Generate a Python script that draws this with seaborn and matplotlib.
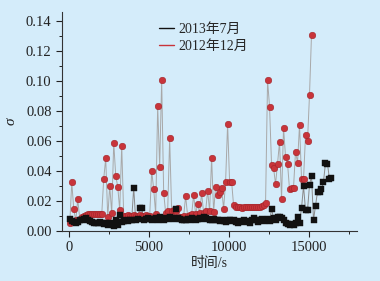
import numpy as np
import pandas as pd
import matplotlib
matplotlib.use("Agg")
import matplotlib.pyplot as plt
from matplotlib.lines import Line2D
from matplotlib.ticker import MultipleLocator
import seaborn as sns

# sampling of the two records (s)
t0 = 40
dt = 125

# 2012年12月 (red circles)
sigma_2012 = [
    0.005, 0.0325, 0.0145, 0.007, 0.021, 0.008, 0.009, 0.010, 0.0105, 0.011,
    0.011, 0.011, 0.011, 0.011, 0.011, 0.011, 0.011, 0.035, 0.0485, 0.009,
    0.030, 0.012, 0.059, 0.037, 0.0296, 0.014, 0.057, 0.010, 0.010, 0.0105,
    0.010, 0.010, 0.0105, 0.010, 0.010, 0.0105, 0.010, 0.010, 0.0105, 0.010,
    0.010, 0.040, 0.028, 0.0113, 0.0835, 0.043, 0.1007, 0.0255, 0.012, 0.013,
    0.0618, 0.013, 0.014, 0.013, 0.015, 0.009, 0.0095, 0.010, 0.0233, 0.010,
    0.0105, 0.011, 0.0242, 0.011, 0.018, 0.012, 0.0253, 0.012, 0.013, 0.027,
    0.013, 0.049, 0.0127, 0.0296, 0.024, 0.026, 0.0287, 0.0147, 0.033, 0.0713,
    0.033, 0.033, 0.017, 0.016, 0.0158, 0.016, 0.0155, 0.016, 0.0158, 0.016,
    0.016, 0.0158, 0.016, 0.0162, 0.016, 0.0162, 0.0165, 0.017, 0.0185, 0.1004,
    0.083, 0.044, 0.042, 0.0313, 0.045, 0.0596, 0.0213, 0.0689, 0.0495, 0.045,
    0.0278, 0.0287, 0.029, 0.053, 0.0456, 0.0707, 0.035, 0.0345, 0.0637, 0.060,
    0.091, 0.131,
]

# 2013年7月 (black squares)
sigma_2013 = [
    0.008, 0.0065, 0.006, 0.0055, 0.006, 0.007, 0.0075, 0.008, 0.0085, 0.007,
    0.0065, 0.006, 0.005, 0.0055, 0.005, 0.006, 0.0055, 0.0045, 0.005, 0.004,
    0.005, 0.0045, 0.0035, 0.0075, 0.004, 0.0105, 0.006, 0.0065, 0.007, 0.0065,
    0.007, 0.0075, 0.029, 0.007, 0.008, 0.0155, 0.015, 0.0075, 0.008, 0.0085,
    0.008, 0.0075, 0.008, 0.0085, 0.007, 0.009, 0.008, 0.0075, 0.0085, 0.008,
    0.009, 0.0085, 0.008, 0.0145, 0.0085, 0.008, 0.0075, 0.0075, 0.007, 0.008,
    0.0075, 0.0085, 0.008, 0.0075, 0.008, 0.0085, 0.008, 0.009, 0.0085, 0.008,
    0.0075, 0.007, 0.008, 0.0075, 0.007, 0.0065, 0.007, 0.0065, 0.006, 0.0075,
    0.007, 0.0065, 0.0075, 0.006, 0.0055, 0.0065, 0.006, 0.007, 0.0065, 0.006,
    0.0055, 0.007, 0.0085, 0.0075, 0.006, 0.007, 0.008, 0.0065, 0.0075, 0.008,
    0.0065, 0.0147, 0.0085, 0.0075, 0.009, 0.0095, 0.0085, 0.007, 0.0055, 0.0045,
    0.004, 0.0045, 0.004, 0.005, 0.009, 0.0055, 0.0151, 0.030, 0.014, 0.014,
    0.0307, 0.0367, 0.0073, 0.0167, 0.0262, 0.0262, 0.0278, 0.033, 0.0453, 0.0447,
    0.0345, 0.0355,
]

labels = ["2013年7月", "2012年12月"]

df12 = pd.DataFrame({"t": t0 + dt * np.arange(len(sigma_2012)), "sigma": sigma_2012})
df13 = pd.DataFrame({"t": t0 + dt * np.arange(len(sigma_2013)), "sigma": sigma_2013})

bg = "#d4ecfa"
red = "#c8343a"

sns.set_style("ticks")
plt.rcParams['font.family'] = ['Liberation Serif', 'Noto Sans CJK SC']
plt.rcParams['xtick.direction'] = 'out'
plt.rcParams['ytick.direction'] = 'out'

fig = plt.figure(figsize=(3.8, 2.81), dpi=100, facecolor=bg)
ax = fig.add_axes([0.163, 0.178, 0.776, 0.779], facecolor=bg)

sns.lineplot(data=df12, x="t", y="sigma", ax=ax, color="#a8a8a8", lw=0.7)
sns.scatterplot(data=df12, x="t", y="sigma", ax=ax, marker="o", s=22,
                color=red, edgecolor="#a02228", linewidth=0.4, zorder=3)
sns.lineplot(data=df13, x="t", y="sigma", ax=ax, color="#8a8a8a", lw=0.7)
sns.scatterplot(data=df13, x="t", y="sigma", ax=ax, marker="s", s=17,
                color="#111111", edgecolor="#111111", linewidth=0.3, zorder=4)

ax.set_xlim(-450, 18000)
ax.set_ylim(0, 0.146)
ax.xaxis.set_major_locator(MultipleLocator(5000))
ax.xaxis.set_minor_locator(MultipleLocator(2500))
ax.yaxis.set_major_locator(MultipleLocator(0.02))
ax.yaxis.set_minor_locator(MultipleLocator(0.01))
ax.yaxis.set_major_formatter(matplotlib.ticker.FormatStrFormatter('%.2f'))
ax.tick_params(which='major', length=4, width=0.8, labelsize=10.5, colors="#222222")
ax.tick_params(which='minor', length=2.5, width=0.7, colors="#222222")

sns.despine(ax=ax)
for s in ["left", "bottom"]:
    ax.spines[s].set_color("#333333")
    ax.spines[s].set_linewidth(0.8)

ax.set_xlabel("时间/s", fontsize=10, color="#222222", labelpad=2)
ax.set_ylabel("σ", fontsize=11, style="italic", color="#222222", labelpad=6)

handles = [Line2D([], [], color="#111111", lw=1.0),
           Line2D([], [], color=red, lw=1.0)]
ax.legend(handles, labels, loc="upper left", bbox_to_anchor=(0.31, 0.975),
          frameon=False, fontsize=10, handlelength=1.1, handletextpad=0.3,
          labelspacing=0.3, borderaxespad=0)

fig.savefig("out.png", dpi=100, facecolor=bg)
